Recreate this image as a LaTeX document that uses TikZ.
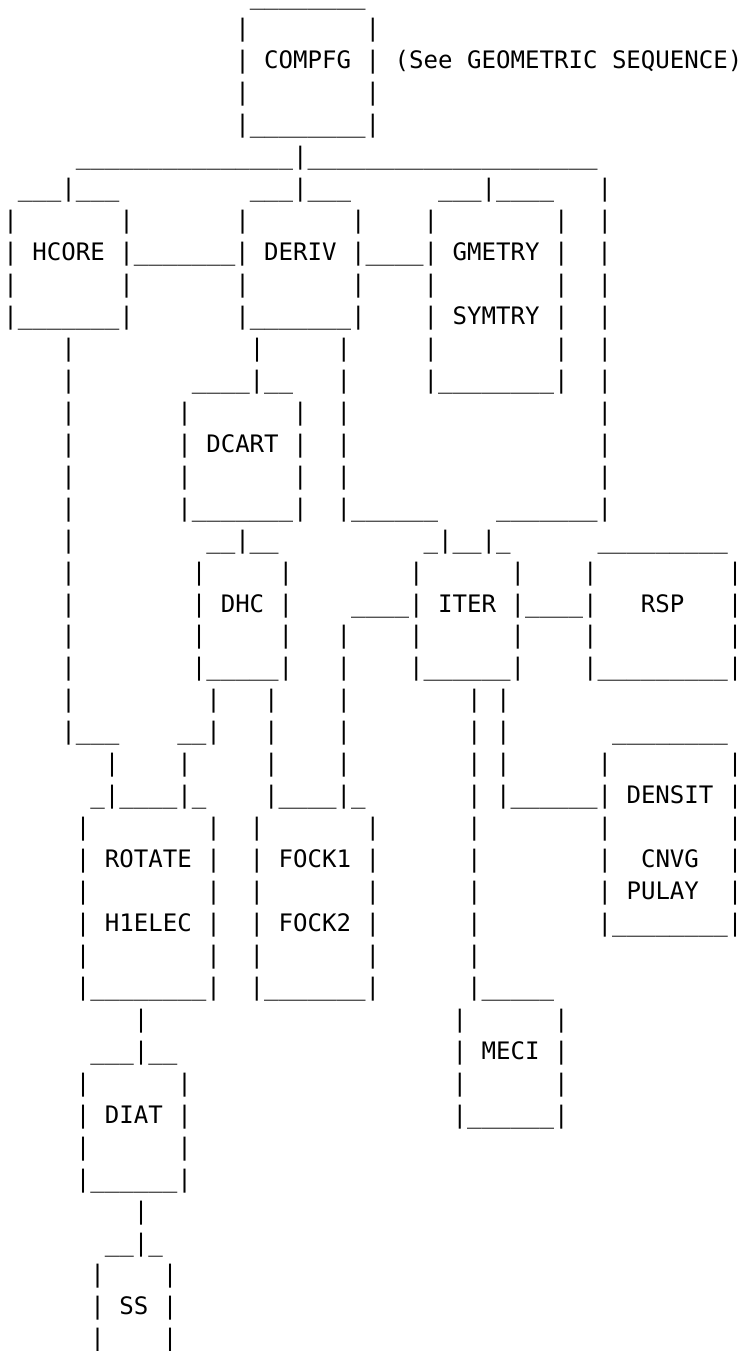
\documentclass[tikz,border=0pt]{standalone}
\usepackage{fontspec}
\newfontfamily\asc{DejaVu Sans Mono}
\newcommand\rep[2]{\ifnum#1>0 #2\expandafter\rep\expandafter{\the\numexpr#1-1\relax}{#2}\fi}
\newcommand\bl[1]{\rep{#1}{\ }}
\newcommand\un[1]{\rep{#1}{\_}}
\tikzset{
  artrow/.style={anchor=base west, inner sep=0pt, outer sep=0pt,
    font=\asc\fontsize{24.07pt}{32pt}\selectfont, text=black}
}
\newcommand\row[3][]{\node[artrow,#1] (r#2) at (3.4pt,{1346pt-31.95pt*#2}) {#3};}
\begin{document}
\begin{tikzpicture}[x=1pt,y=1pt]
\fill[white] (0,0) rectangle (755,1351);
\useasboundingbox (0,0) rectangle (755,1351);
\row[text height=0pt]{0}{\bl{17}\un{8}}
\row{1}{\bl{16}|\bl{8}|}
\row{2}{\bl{16}| COMPFG |\bl{1}(See GEOMETRIC SEQUENCE)}
\row{3}{\bl{16}|\bl{8}|}
\row{4}{\bl{16}|\un{8}|}
\row{5}{\bl{5}\un{15}|\un{20}}
\row{6}{\bl{1}\un{3}|\un{3}\bl{9}\un{3}|\un{3}\bl{6}\un{3}|\un{4}\bl{3}|}
\row{7}{|\bl{7}|\bl{7}|\bl{7}|\bl{4}|\bl{8}|\bl{2}|}
\row{8}{| HCORE |\un{7}| DERIV |\un{4}| GMETRY |\bl{2}|}
\row{9}{|\bl{7}|\bl{7}|\bl{7}|\bl{4}|\bl{8}|\bl{2}|}
\row{10}{|\un{7}|\bl{7}|\un{7}|\bl{4}| SYMTRY |\bl{2}|}
\row{11}{\bl{4}|\bl{12}|\bl{5}|\bl{5}|\bl{8}|\bl{2}|}
\row{12}{\bl{4}|\bl{8}\un{4}|\un{2}\bl{3}|\bl{5}|\un{8}|\bl{2}|}
\row{13}{\bl{4}|\bl{7}|\bl{7}|\bl{2}|\bl{17}|}
\row{14}{\bl{4}|\bl{7}| DCART |\bl{2}|\bl{17}|}
\row{15}{\bl{4}|\bl{7}|\bl{7}|\bl{2}|\bl{17}|}
\row{16}{\bl{4}|\bl{7}|\un{7}|\bl{2}|\un{6}\bl{4}\un{7}|}
\row{17}{\bl{4}|\bl{9}\un{2}|\un{2}\bl{10}\un{1}|\un{2}|\un{1}\bl{6}\un{9}}
\row{18}{\bl{4}|\bl{8}|\bl{5}|\bl{8}|\bl{6}|\bl{4}|\bl{9}|}
\row{19}{\bl{4}|\bl{8}| DHC |\bl{4}\un{4}| ITER |\un{4}|\bl{3}RSP\bl{3}|}
\row{20}{\bl{4}|\bl{8}|\bl{5}|\bl{3}|\bl{4}|\bl{6}|\bl{4}|\bl{9}|}
\row{21}{\bl{4}|\bl{8}|\un{5}|\bl{3}|\bl{4}|\un{6}|\bl{4}|\un{9}|}
\row{22}{\bl{4}|\bl{9}|\bl{3}|\bl{4}|\bl{8}|\bl{1}|}
\row{23}{\bl{4}|\un{3}\bl{4}\un{2}|\bl{3}|\bl{4}|\bl{8}|\bl{1}|\bl{7}\un{8}}
\row{24}{\bl{7}|\bl{4}|\bl{5}|\bl{4}|\bl{8}|\bl{1}|\bl{6}|\bl{8}|}
\row{25}{\bl{6}\un{1}|\un{4}|\un{1}\bl{4}|\un{4}|\un{1}\bl{7}|\bl{1}|\un{6}| DENSIT |}
\row{26}{\bl{5}|\bl{8}|\bl{2}|\bl{7}|\bl{6}|\bl{8}|\bl{8}|}
\row{27}{\bl{5}| ROTATE |\bl{2}| FOCK1 |\bl{6}|\bl{8}|\bl{2}CNVG\bl{2}|}
\row{28}{\bl{5}|\bl{8}|\bl{2}|\bl{7}|\bl{6}|\bl{8}| PULAY\bl{2}|}
\row{29}{\bl{5}| H1ELEC |\bl{2}| FOCK2 |\bl{6}|\bl{8}|\un{8}|}
\row{30}{\bl{5}|\bl{8}|\bl{2}|\bl{7}|\bl{6}|}
\row{31}{\bl{5}|\un{8}|\bl{2}|\un{7}|\bl{6}|\un{5}}
\row{32}{\bl{9}|\bl{21}|\bl{6}|}
\row{33}{\bl{6}\un{3}|\un{2}\bl{19}| MECI |}
\row{34}{\bl{5}|\bl{6}|\bl{18}|\bl{6}|}
\row{35}{\bl{5}| DIAT |\bl{18}|\un{6}|}
\row{36}{\bl{5}|\bl{6}|}
\row{37}{\bl{5}|\un{6}|}
\row{38}{\bl{9}|}
\row{39}{\bl{7}\un{2}|\un{1}}
\row{40}{\bl{6}|\bl{4}|}
\row{41}{\bl{6}| SS |}
\row[text depth=0pt]{42}{\bl{6}|\bl{4}|}
\end{tikzpicture}
\end{document}
